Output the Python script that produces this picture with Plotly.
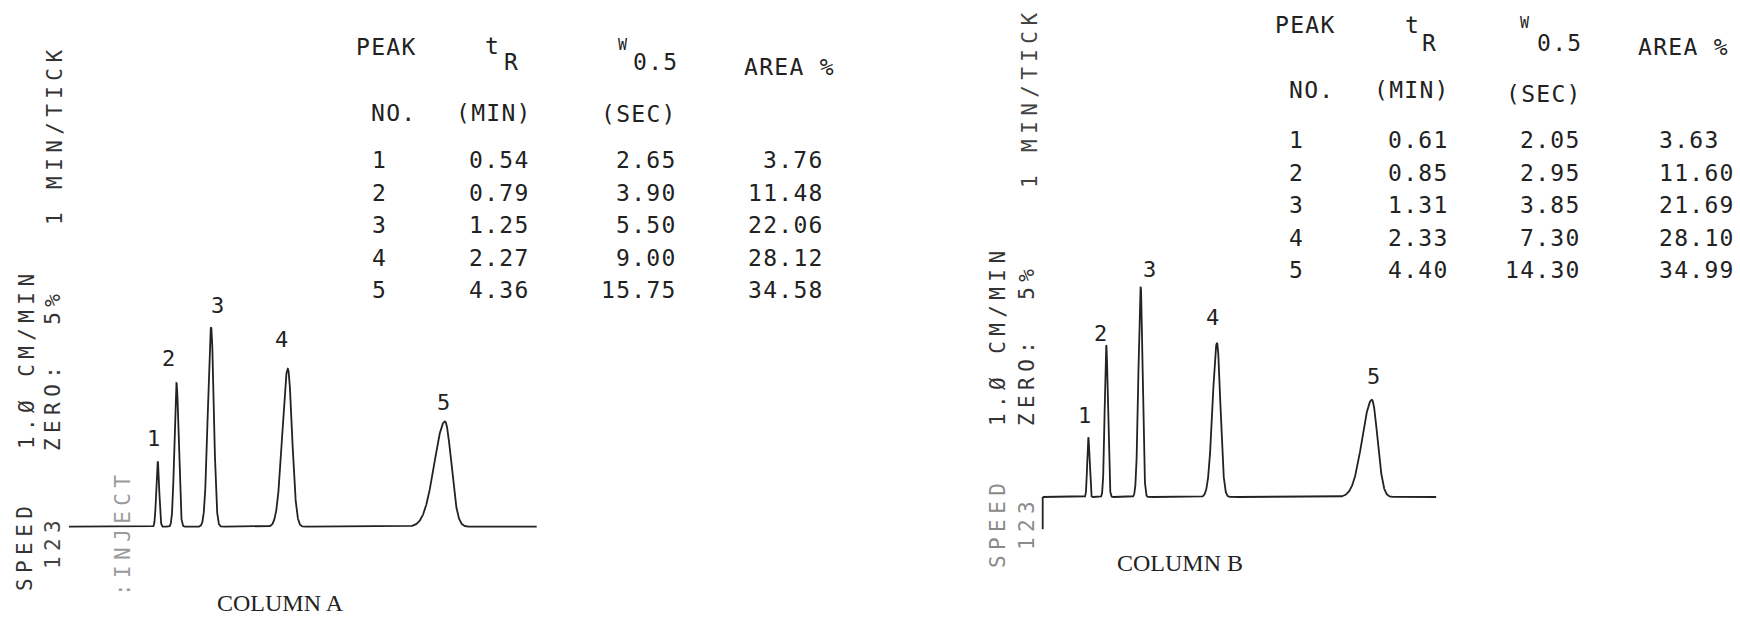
import numpy as np
import plotly.graph_objects as go

W, H = 1740, 618

# ---------------- data ----------------
peak_no = [1, 2, 3, 4, 5]

# Column A table
tr_a = [0.54, 0.79, 1.25, 2.27, 4.36]          # retention time, min
w05_a = [2.65, 3.90, 5.50, 9.00, 15.75]        # width at half height, s
area_a = [3.76, 11.48, 22.06, 28.12, 34.58]    # area %

# Column B table
tr_b = [0.61, 0.85, 1.31, 2.33, 4.40]
w05_b = [2.05, 2.95, 3.85, 7.30, 14.30]
area_b = [3.63, 11.60, 21.69, 28.10, 34.99]

# peak heights (cm above baseline)
height_a = [0.87, 1.91, 2.65, 2.10, 1.40]
height_b = [0.80, 2.03, 2.81, 2.06, 1.30]

# front/tail half-width ratio
asym_a = [1.0, 1.0, 1.2, 1.3, 1.7]
asym_b = [1.0, 1.0, 1.2, 1.3, 1.7]

# extent of the recorder trace (min after injection)
run_a = [-0.64, 5.58]
run_b = [0.0, 5.26]
inject_mark_b = [0.0, -0.43]   # vertical inject mark of column B (cm)

# ---------------- layout helpers ----------------
MONO = "DejaVu Sans Mono"
INK = "#222222"


def px(x):
    return x / W


def py(y):
    return 1 - y / H


def chrom(t, tr, w05, hts, asym):
    y = np.zeros_like(t)
    for c, w, h, r in zip(tr, w05, hts, asym):
        fw = w / 60.0
        s_r = fw / (1.1774 * (1 + r))
        s_l = r * s_r
        s = np.where(t < c, s_l, s_r)
        y += h * np.exp(-0.5 * ((t - c) / s) ** 2)
    return y


# panel geometry in pixels: t=0 position, px per min (=px per cm), baseline y
panels = {
    "a": dict(t0=117.1, ppm=75.2, base=526.7, xpx=(60, 560), ypx=(250, 612)),
    "b": dict(t0=1042.7, ppm=74.8, base=497.0, xpx=(1030, 1450), ypx=(220, 612)),
}

fig = go.Figure()
layout_axes = {}
for i, (key, g) in enumerate(panels.items(), start=1):
    x0, x1 = g["xpx"]
    y0, y1 = g["ypx"]
    xr = [(x0 - g["t0"]) / g["ppm"], (x1 - g["t0"]) / g["ppm"]]
    yr = [(g["base"] - y1) / g["ppm"], (g["base"] - y0) / g["ppm"]]
    sfx = "" if i == 1 else str(i)
    layout_axes["xaxis" + sfx] = dict(domain=[px(x0), px(x1)], range=xr, visible=False,
                                      anchor="y" + sfx, fixedrange=True)
    layout_axes["yaxis" + sfx] = dict(domain=[py(y1), py(y0)], range=yr, visible=False,
                                      anchor="x" + sfx, fixedrange=True)

ta = np.linspace(run_a[0], run_a[1], 4000)
tb = np.linspace(run_b[0], run_b[1], 4000)
fig.add_trace(go.Scatter(x=ta, y=chrom(ta, tr_a, w05_a, height_a, asym_a), mode="lines",
                         line=dict(color=INK, width=1.8), xaxis="x", yaxis="y",
                         showlegend=False, hoverinfo="skip"))
fig.add_trace(go.Scatter(x=tb, y=chrom(tb, tr_b, w05_b, height_b, asym_b), mode="lines",
                         line=dict(color=INK, width=1.8), xaxis="x2", yaxis="y2",
                         showlegend=False, hoverinfo="skip"))
fig.add_trace(go.Scatter(x=[0, 0], y=inject_mark_b, mode="lines",
                         line=dict(color=INK, width=1.8), xaxis="x2", yaxis="y2",
                         showlegend=False, hoverinfo="skip"))

ann = []


def text(s, x, y, size=23, anchor="center", angle=0, color=INK, family=MONO, ls=None):
    if ls is not None:
        s = '<span style="letter-spacing:%spx">%s</span>' % (ls, s)
    ann.append(dict(text=s, x=px(x), y=py(y), xref="paper", yref="paper",
                    xanchor=anchor, yanchor="middle", textangle=angle, showarrow=False,
                    font=dict(family=family, size=size, color=color)))


# peak labels (pixel offsets from the peak apex)
label_off_a = [(-4, 23), (-8, 25), (6, 22), (-6, 29), (-1, 19)]
label_off_b = [(-4, 22), (-6, 12), (9, 17), (-4, 25), (2, 23)]
for tr, hts, off, xa, ya in [(tr_a, height_a, label_off_a, "x", "y"),
                             (tr_b, height_b, label_off_b, "x2", "y2")]:
    for n, c, h, (dx, dy) in zip(peak_no, tr, hts, off):
        ann.append(dict(text=str(n), x=c, y=h, xref=xa, yref=ya, xshift=dx, yshift=dy,
                        showarrow=False, xanchor="center", yanchor="middle",
                        font=dict(family=MONO, size=22, color=INK)))

# ---------------- tables ----------------
LS = 1.3


def table(hdr, rows_y0, xs, tr, w05, area, area_anchor):
    (pk, t_, r_, w_, w5_, ar_, no_, mn_, sc_) = hdr
    text("PEAK", *pk, ls=LS)
    text("t", *t_)
    text("R", *r_)
    text("W", *w_, size=15)
    text("0.5", *w5_, ls=LS)
    text("AREA %", *ar_, ls=LS)
    text("NO.", *no_, ls=LS)
    text("(MIN)", *mn_, ls=LS)
    text("(SEC)", *sc_, ls=LS)
    xn, xt, xw, xa = xs
    for k, n in enumerate(peak_no):
        y = rows_y0 + k * 32.5
        text(str(n), xn, y)
        text(f"{tr[k]:.2f}", xt, y, anchor="right", ls=LS)
        text(f"{w05[k]:.2f}", xw, y, anchor="right", ls=LS)
        text(f"{area[k]:.2f}", xa, y, anchor=area_anchor, ls=LS)


table([(386.5, 47), (491.7, 46), (510.8, 62.5), (623, 45), (655, 62.5), (789, 67),
       (393.5, 113), (493.5, 113), (639, 114)],
      160, (379, 532, 679, 826), tr_a, w05_a, area_a, "right")
table([(1305.5, 25), (1411.7, 25), (1429, 43), (1525, 23), (1559, 43), (1683, 47),
       (1311.5, 90), (1411.5, 90), (1543.5, 94)],
      140, (1296, 1451, 1583, 1657), tr_b, w05_b, area_b, "left")

# ---------------- recorder annotations (vertical) ----------------
VS = 21
VLS = 5.4
for s, x, y, col in [("SPEED", 25, 546, "#333333"), ("1.Ø CM/MIN", 27, 359, "#333333"),
                     ("123", 53, 542, "#444444"), ("ZERO:  5%", 53, 370, "#333333"),
                     ("1 MIN/TICK", 55, 135, "#333333"), (":INJECT", 123, 533, "#9a9a9a"),
                     ("SPEED", 998, 523, "#8a8a8a"), ("1.Ø CM/MIN", 998, 336, "#333333"),
                     ("123", 1027, 523, "#8a8a8a"), ("ZERO:  5%", 1027, 345, "#333333"),
                     ("1 MIN/TICK", 1030, 98, "#444444")]:
    text(s, x, y, size=VS, angle=-90, color=col, ls=VLS)

text("COLUMN A", 280, 603, size=24, family="Liberation Serif")
text("COLUMN B", 1180, 563, size=24, family="Liberation Serif")

fig.update_layout(width=W, height=H, margin=dict(l=0, r=0, t=0, b=0),
                  paper_bgcolor="white", plot_bgcolor="white",
                  annotations=ann, showlegend=False, **layout_axes)

fig.write_html("out.html", config={"displayModeBar": False},
               post_script="document.body.style.margin='0';"
                           "document.body.style.overflow='hidden';")
